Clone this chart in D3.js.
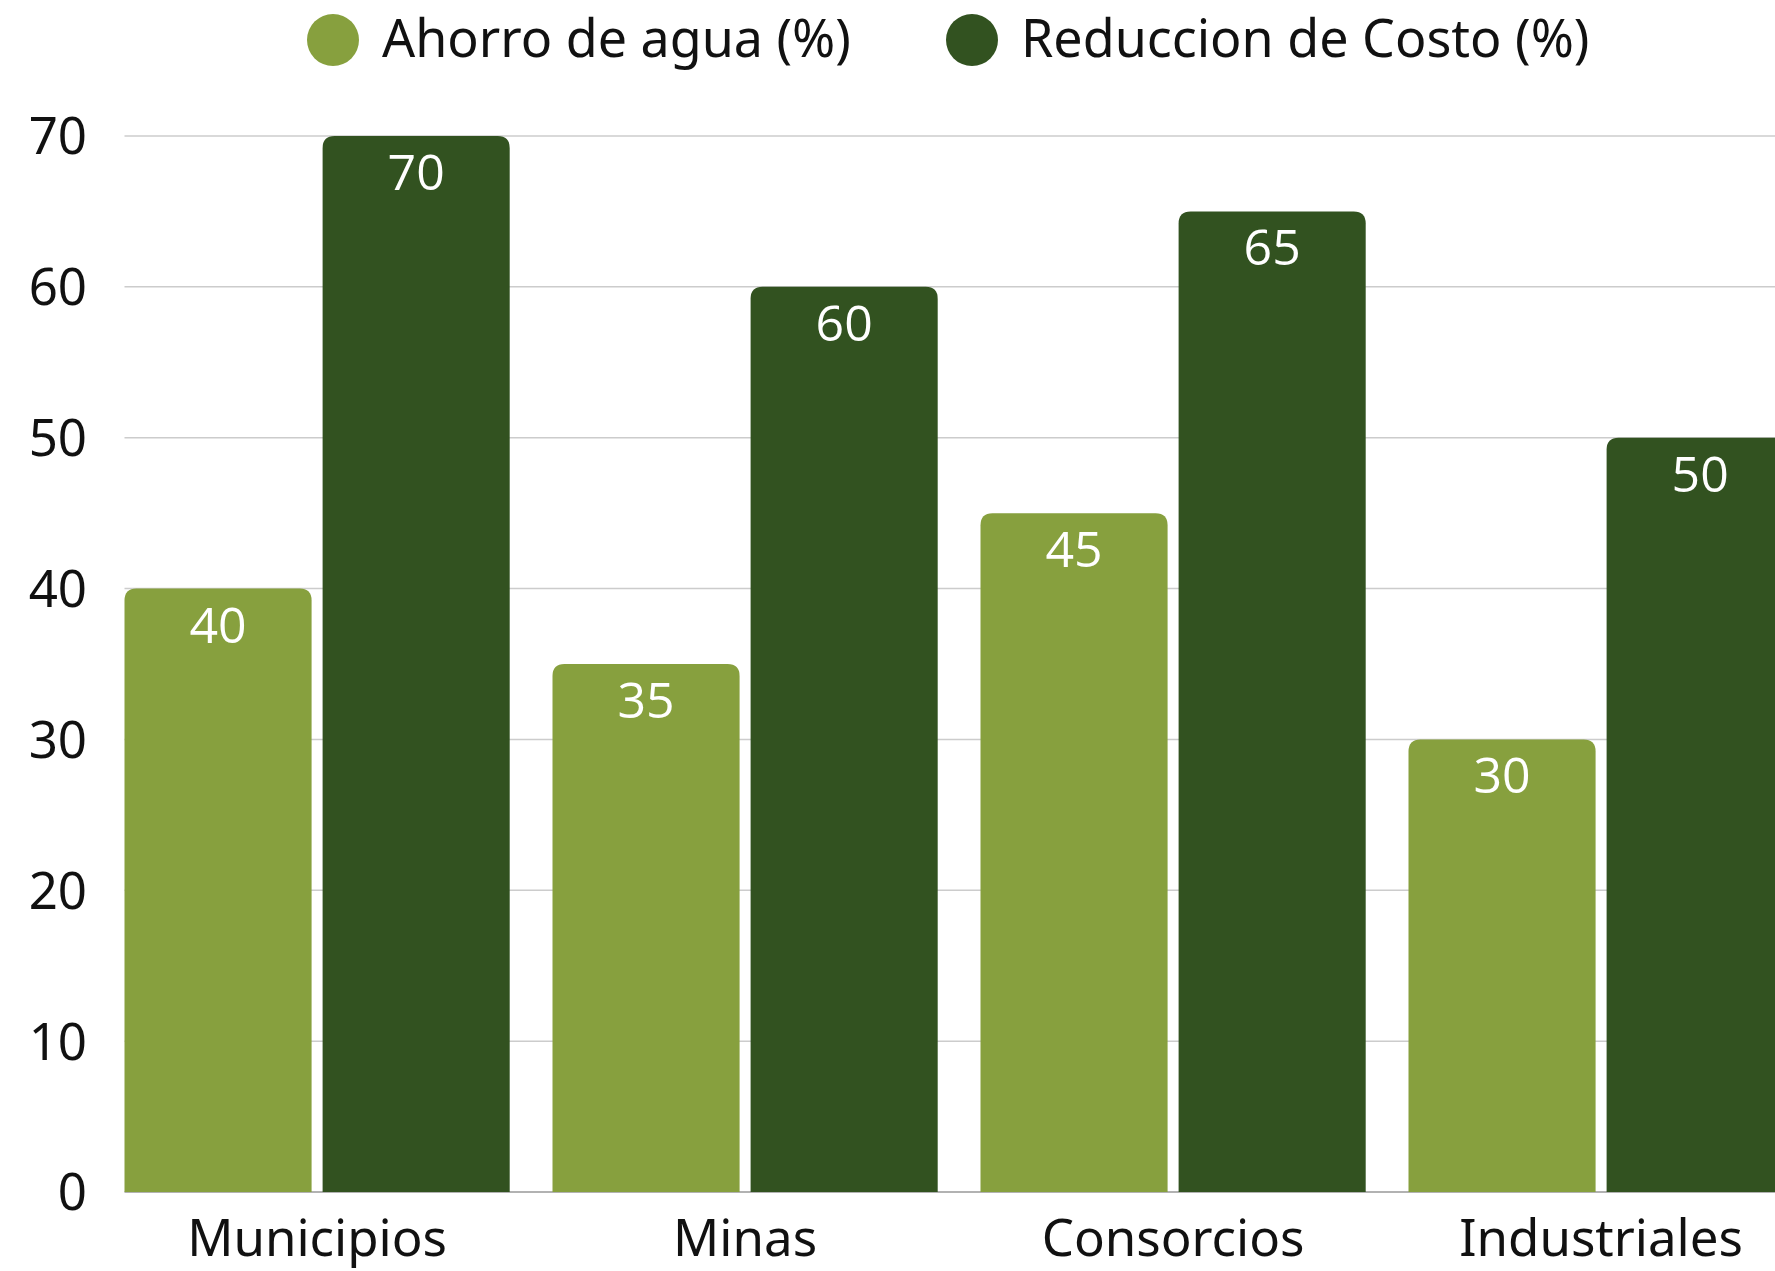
<!DOCTYPE html>
<html>
<head>
<meta charset="utf-8">
<script src="https://cdn.jsdelivr.net/npm/d3@7"></script>
<style>
  html, body { margin: 0; padding: 0; background: #ffffff; overflow: hidden; }
  svg { display: block; }
</style>
</head>
<body>
<svg id="chart" width="1775" height="1271"></svg>
<script>
const categories = ["Municipios", "Minas", "Consorcios", "Industriales"];
const seriesNames = ["Ahorro de agua (%)", "Reduccion de Costo (%)"];
const ahorroAgua = [40, 35, 45, 30];
const reduccionCosto = [70, 60, 65, 50];
const yTicks = [0, 10, 20, 30, 40, 50, 60, 70];
const seriesColors = ["#87a03e", "#325220"];

const seriesValues = [ahorroAgua, reduccionCosto];
const data = categories.map((c, i) => ({ category: c, values: seriesValues.map((s, j) => ({ key: j, value: s[i] })) }));

const svg = d3.select("#chart");
const margin = { left: 124.5, top: 136, bottom: 1192 };
const plotRight = 1793.7;

const x0 = d3.scaleBand().domain(categories).range([margin.left, plotRight]).paddingInner(0.1).paddingOuter(0);
const x1 = d3.scaleBand().domain([0, 1]).range([0, x0.bandwidth()]).paddingInner(0.0556).paddingOuter(0);
const y = d3.scaleLinear().domain([0, 70]).range([margin.bottom, margin.top]);

const axisFont = "'Noto Sans', 'Open Sans', sans-serif";

// gridlines
svg.append("g").selectAll("line").data(yTicks.filter(t => t > 0)).join("line")
  .attr("x1", margin.left).attr("x2", 1775)
  .attr("y1", d => y(d)).attr("y2", d => y(d))
  .attr("stroke", "#cccccc").attr("stroke-width", 1.5);

// baseline
svg.append("line")
  .attr("x1", margin.left).attr("x2", 1775)
  .attr("y1", y(0)).attr("y2", y(0))
  .attr("stroke", "#999999").attr("stroke-width", 1.5);

// y axis labels
const yAxis = d3.axisLeft(y).tickValues(yTicks).tickSize(0).tickPadding(0).tickFormat(d3.format("d"));
const yg = svg.append("g").attr("transform", `translate(87,0)`).call(yAxis);
yg.select(".domain").remove();
yg.selectAll("text").attr("font-family", axisFont).attr("font-size", 51).attr("fill", "#111").attr("dy", "0.35em");

// x axis labels
const xAxis = d3.axisBottom(x0).tickSize(0).tickPadding(0);
const xg = svg.append("g").attr("transform", `translate(0,1256)`).call(xAxis);
xg.select(".domain").remove();
xg.selectAll("text").attr("font-family", axisFont).attr("font-size", 51).attr("fill", "#111").attr("dy", 0);

// rounded-top bar path
const r = 12;
function barPath(x, yTop, w, yBot) {
  const rr = Math.min(r, (yBot - yTop), w / 2);
  return `M${x},${yBot} V${yTop + rr} Q${x},${yTop} ${x + rr},${yTop} H${x + w - rr} Q${x + w},${yTop} ${x + w},${yTop + rr} V${yBot} Z`;
}

const groups = svg.append("g").selectAll("g").data(data).join("g")
  .attr("transform", d => `translate(${x0(d.category)},0)`);

groups.selectAll("path").data(d => d.values).join("path")
  .attr("d", d => barPath(x1(d.key), y(d.value), x1.bandwidth(), y(0)))
  .attr("fill", d => seriesColors[d.key]);

groups.selectAll("text").data(d => d.values).join("text")
  .attr("x", d => x1(d.key) + x1.bandwidth() / 2)
  .attr("y", d => y(d.value) + 54)
  .attr("text-anchor", "middle")
  .attr("font-family", "'Open Sans', 'Noto Sans', sans-serif")
  .attr("font-size", 50)
  .attr("fill", "#ffffff")
  .text(d => d.value);

// legend
const legendX = [333, 972];
const legend = svg.append("g").selectAll("g").data(seriesNames).join("g")
  .attr("transform", (d, i) => `translate(${legendX[i]},40)`);
legend.append("circle").attr("r", 26).attr("fill", (d, i) => seriesColors[i]);
legend.append("text").attr("x", 49).attr("y", 17)
  .attr("font-family", axisFont).attr("font-size", 52).attr("fill", "#111")
  .text(d => d);
</script>
</body>
</html>
